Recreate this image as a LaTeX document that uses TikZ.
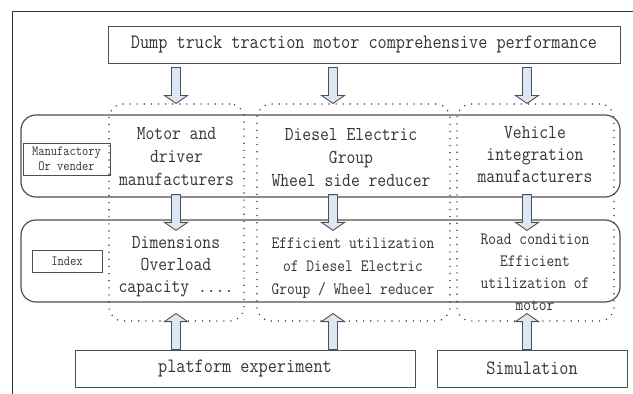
\documentclass[tikz,border=0pt]{standalone}
\usepackage{fontspec}
\newfontfamily\mfont{Latin Modern Mono}[FakeStretch=0.87]
\usetikzlibrary{calc}
\definecolor{linec}{HTML}{505050}
\definecolor{framec}{HTML}{333333}
\definecolor{arrowfill}{HTML}{DCE6F4}
\definecolor{textc}{HTML}{333333}
\tikzset{
  frameline/.style={draw=framec, line width=1pt},
  box/.style={draw=linec, line width=1pt, inner sep=0pt, text=textc, font=\mfont\fontsize{20.4}{23}\selectfont},
  lab/.style={draw=linec, line width=0.9pt, inner sep=0pt, align=center, text=textc, font=\mfont\fontsize{14}{15}\selectfont},
  band/.style={draw=linec, line width=1.2pt, rounded corners=15pt, inner sep=0pt},
  column/.style={draw=black!85, line width=1.1pt, dash pattern=on 1.1pt off 6pt, rounded corners=14pt, inner sep=0pt},
  bigtxt/.style={align=center, inner sep=0pt, text=textc, font=\mfont\fontsize{19.7}{23}\selectfont},
  bigtxtb/.style={align=center, inner sep=0pt, text=textc, font=\mfont\fontsize{19.7}{22}\selectfont},
  smalltxt/.style={align=center, inner sep=0pt, text=textc, font=\mfont\fontsize{17.3}{23}\selectfont},
  smalltxtb/.style={align=center, inner sep=0pt, text=textc, font=\mfont\fontsize{17.3}{22}\selectfont},
  downarrow/.style={draw=linec, fill=arrowfill, line width=0.9pt, line join=miter,
    to path={let \p1=(\tikztostart), \p2=(\tikztotarget) in
      (\x1-4.5pt,\y1) -- (\x1-4.5pt,\y2+8pt) -- (\x1-11.5pt,\y2+8pt) -- (\x1,\y2)
      -- (\x1+11.5pt,\y2+8pt) -- (\x1+4.5pt,\y2+8pt) -- (\x1+4.5pt,\y1) -- cycle}},
  uparrow/.style={draw=linec, fill=arrowfill, line width=0.9pt, line join=miter,
    to path={let \p1=(\tikztostart), \p2=(\tikztotarget) in
      (\x1-4.5pt,\y1) -- (\x1-4.5pt,\y2-8pt) -- (\x1-11.5pt,\y2-8pt) -- (\x1,\y2)
      -- (\x1+11.5pt,\y2-8pt) -- (\x1+4.5pt,\y2-8pt) -- (\x1+4.5pt,\y1) -- cycle}},
}
\begin{document}
\begin{tikzpicture}[x=1pt,y=-1pt]
\useasboundingbox (0,0) rectangle (633,394);
\draw[frameline] (12.5,394) -- (12.5,11.5) -- (633,11.5);

% bands
\node[band, minimum width=599pt, minimum height=82pt] (band1) at (320.5,156) {};
\node[band, minimum width=599pt, minimum height=82pt] (band2) at (320.5,261) {};

% dotted columns
\node[column, minimum width=135pt, minimum height=217pt] (col1) at (176.5,212.5) {};
\node[column, minimum width=193pt, minimum height=217pt] (col2) at (353.5,212.5) {};
\node[column, minimum width=157pt, minimum height=217pt] (col3) at (535.5,212.5) {};

% boxes
\node[box, minimum width=512pt, minimum height=37pt] (top) at (364,44.5) {Dump truck traction motor comprehensive performance};
\node[box, minimum width=340pt, minimum height=37pt] (plat) at (245,368.5) {platform experiment};
\node[box, minimum width=190pt, minimum height=37pt] (sim) at (532,368.5) {Simulation};
\node[lab, minimum width=87pt, minimum height=32pt] (manu) at (66.5,159) {Manufactory\\Or vender};
\node[lab, minimum width=70pt, minimum height=22pt] (idx) at (67,261) {Index};

% texts
\node[bigtxt] (m1) at (176.5,157) {Motor and\\driver\\manufacturers};
\node[bigtxt] (m2) at (351,158) {Diesel Electric\\Group\\Wheel side reducer};
\node[bigtxtb] (m3) at (535,155) {Vehicle\\integration\\manufacturers};
\node[bigtxtb] (i1) at (176,267) {Dimensions\\Overload\\capacity ....};
\node[smalltxt] (i2) at (353,268) {Efficient utilization\\of Diesel Electric\\Group / Wheel reducer};
\node[smalltxtb] (i3) at (535,272) {Road condition\\Efficient\\utilization of\\motor};

% arrow x positions
\coordinate (ax1) at (176,0);
\coordinate (ax2) at (333,0);
\coordinate (ax3) at (527,0);

% top arrows
\draw[downarrow] ($(top.south -| ax1)+(0,4)$) to (col1.north -| ax1);
\draw[downarrow] ($(top.south -| ax2)+(0,4)$) to (col2.north -| ax2);
\draw[downarrow] ($(top.south -| ax3)+(0,4)$) to (col3.north -| ax3);

% middle arrows
\draw[downarrow] ($(band1.south -| ax1)+(0,-3)$) to ($(band2.north -| ax1)+(0,11)$);
\draw[downarrow] ($(band1.south -| ax2)+(0,-3)$) to ($(band2.north -| ax2)+(0,11)$);
\draw[downarrow] ($(band1.south -| ax3)+(0,-3)$) to ($(band2.north -| ax3)+(0,11)$);

% bottom arrows
\draw[uparrow] (plat.north -| ax1) to ($(col1.south -| ax1)+(0,-8)$);
\draw[uparrow] (plat.north -| ax2) to ($(col2.south -| ax2)+(0,-8)$);
\draw[uparrow] (sim.north -| ax3) to ($(col3.south -| ax3)+(0,-8)$);
\end{tikzpicture}
\end{document}
